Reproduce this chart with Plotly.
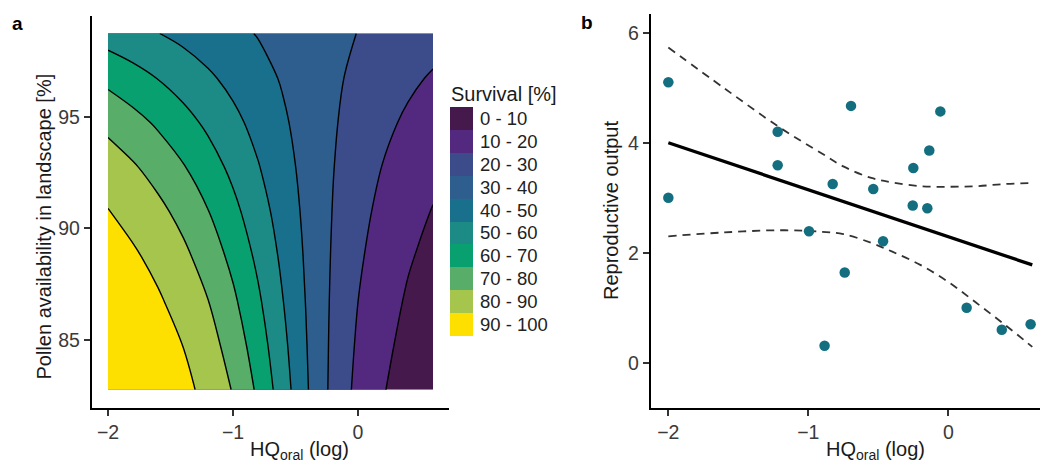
import plotly.graph_objects as go

# ---------------- Panel a: survival surface ----------------
hq_grid = [-2.0, -1.8, -1.6, -1.4, -1.2, -1.0, -0.8, -0.6, -0.4, -0.2, 0.0, 0.2, 0.4, 0.6]
pollen_grid = [82.75, 84.75, 86.75, 88.75, 90.75, 92.75, 94.75, 96.75, 98.75]
survival = [
    [98.61, 97.54, 95.67, 92.51, 87.34, 79.41, 68.31, 54.64, 40.23, 27.33, 17.36, 10.51, 6.16, 3.54],
    [97.71, 96.20, 93.76, 89.91, 84.08, 75.80, 65.00, 52.41, 39.50, 27.90, 18.67, 11.98, 7.46, 4.57],
    [96.27, 94.20, 91.08, 86.53, 80.15, 71.77, 61.54, 50.15, 38.77, 28.47, 20.04, 13.62, 9.02, 5.87],
    [93.97, 91.23, 87.41, 82.25, 75.57, 67.38, 57.96, 47.92, 38.06, 29.08, 21.49, 15.45, 10.87, 7.53],
    [90.39, 86.95, 82.52, 76.98, 70.30, 62.65, 54.29, 45.69, 37.34, 29.68, 23.01, 17.47, 13.04, 9.60],
    [85.03, 81.02, 76.24, 70.68, 64.44, 57.66, 50.58, 43.48, 36.63, 30.28, 24.61, 19.70, 15.57, 12.17],
    [77.43, 73.23, 68.57, 63.50, 58.11, 52.52, 46.87, 41.29, 35.93, 30.90, 26.29, 22.14, 18.48, 15.31],
    [67.43, 63.66, 59.71, 55.64, 51.48, 47.31, 43.17, 39.13, 35.23, 31.52, 28.03, 24.78, 21.80, 19.09],
    [55.55, 52.88, 50.19, 47.49, 44.81, 42.17, 39.56, 37.01, 34.54, 32.14, 29.84, 27.63, 25.53, 23.53],
]
band_labels = ["0 - 10", "10 - 20", "20 - 30", "30 - 40", "40 - 50",
               "50 - 60", "60 - 70", "70 - 80", "80 - 90", "90 - 100"]
band_centers = [5, 15, 25, 35, 45, 55, 65, 75, 85, 95]
band_colors = ["#45194C", "#53297F", "#3C4B8A", "#2E5E8D", "#18708C",
               "#1C8B86", "#07A06E", "#58AE68", "#A5C54C", "#FDDF00"]

# ---------------- Panel b: reproductive output ----------------
hq_points = [-2.0, -2.0, -1.219, -1.219, -0.695, -0.826, -0.536, -0.995, -0.466, -0.740,
             -0.884, -0.057, -0.136, -0.250, -0.254, -0.150, 0.131, 0.382, 0.588]
repro_points = [5.11, 3.01, 4.21, 3.60, 4.68, 3.26, 3.17, 2.40, 2.22, 1.65,
                0.32, 4.58, 3.87, 3.55, 2.87, 2.82, 1.01, 0.61, 0.71]
fit_x = [-2.0, 0.6]
fit_y = [4.01, 1.79]
ci_x = [-2.0, -1.6, -1.2, -0.9, -0.75, -0.55, -0.4, -0.2, 0.0, 0.2, 0.4, 0.6]
ci_upper = [5.74, 5.00, 4.28, 3.81, 3.58, 3.37, 3.29, 3.22, 3.21, 3.22, 3.26, 3.28]
ci_lower = [2.31, 2.38, 2.42, 2.39, 2.35, 2.19, 2.03, 1.79, 1.48, 1.10, 0.71, 0.30]

W, H = 1040, 462
def px(x):
    return x / W
def py(y):
    return 1 - y / H

FONT = "Liberation Sans, Arial, Helvetica, sans-serif"
TICK_COL = "#3a3a3a"
colorscale = [[i / 9, c] for i, c in enumerate(band_colors)]

fig = go.Figure()

fig.add_trace(go.Contour(
    x=hq_grid, y=pollen_grid, z=survival,
    autocontour=False,
    contours=dict(start=10, end=90, size=10, coloring="fill", showlines=True),
    line=dict(color="black", width=1.4, smoothing=1.0),
    colorscale=colorscale,
    showscale=False,
    hoverinfo="skip",
    xaxis="x", yaxis="y",
))

# legend of survival classes, drawn as a one-column heatmap
fig.add_trace(go.Heatmap(
    z=[[v] for v in band_centers], y=band_labels, x=[0],
    colorscale=colorscale, zmin=5, zmax=95, showscale=False,
    xaxis="x3", yaxis="y3", hoverinfo="skip",
))

fig.add_trace(go.Scatter(
    x=ci_x, y=ci_upper, mode="lines", line=dict(color="#333333", width=1.8, dash="8px,6px", shape="spline"),
    xaxis="x2", yaxis="y2", showlegend=False, hoverinfo="skip"))
fig.add_trace(go.Scatter(
    x=ci_x, y=ci_lower, mode="lines", line=dict(color="#333333", width=1.8, dash="8px,6px", shape="spline"),
    xaxis="x2", yaxis="y2", showlegend=False, hoverinfo="skip"))
fig.add_trace(go.Scatter(
    x=fit_x, y=fit_y, mode="lines", line=dict(color="black", width=3.3),
    xaxis="x2", yaxis="y2", showlegend=False))
fig.add_trace(go.Scatter(
    x=hq_points, y=repro_points, mode="markers",
    marker=dict(color="#136E80", size=10.5, line=dict(width=0)),
    xaxis="x2", yaxis="y2", showlegend=False))

axis_common = dict(
    showline=True, linecolor="black", linewidth=1.8, mirror=False,
    ticks="outside", ticklen=6, tickwidth=1.5, tickcolor="#333",
    showgrid=False, zeroline=False,
    tickfont=dict(family=FONT, size=19.5, color=TICK_COL),
)

fig.update_layout(
    width=W, height=H,
    margin=dict(l=0, r=0, t=0, b=0, autoexpand=False),
    paper_bgcolor="white", plot_bgcolor="white",
    showlegend=False,
    font=dict(family=FONT),
    xaxis=dict(domain=[px(91.75), px(449.25)], range=[-2.13, 0.73],
               tickvals=[-2, -1, 0], anchor="y", **axis_common),
    yaxis=dict(domain=[py(407.6), py(15.67)], range=[81.95, 99.55],
               tickvals=[85, 90, 95], anchor="x", **axis_common),
    xaxis2=dict(domain=[px(650.7), 1.0], range=[-2.126, 0.655],
                tickvals=[-2, -1, 0], anchor="y2", **axis_common),
    yaxis2=dict(domain=[py(407.9), py(13.5)], range=[-0.81, 6.36],
                tickvals=[0, 2, 4, 6], anchor="x2", **axis_common),
    xaxis3=dict(domain=[px(450), px(473)], anchor="y3", visible=False, fixedrange=True),
    yaxis3=dict(domain=[py(336), py(107)], anchor="x3", autorange="reversed",
                type="category", tickmode="array", tickvals=band_labels, ticktext=band_labels,
                side="right", showline=False, showgrid=False, zeroline=False, ticks="",
                ticklabelstandoff=6,
                tickfont=dict(family=FONT, size=18.5, color="#222"), fixedrange=True),
)

ann_font = dict(family=FONT, size=20, color="#1a1a1a")
annotations = [
    dict(text="<b>a</b>", x=px(17.5), y=py(23), xref="paper", yref="paper",
         showarrow=False, xanchor="center", yanchor="middle",
         font=dict(family=FONT, size=19, color="black")),
    dict(text="<b>b</b>", x=px(587), y=py(22), xref="paper", yref="paper",
         showarrow=False, xanchor="center", yanchor="middle",
         font=dict(family=FONT, size=19, color="black")),
    dict(text="Survival [%]", x=px(449), y=py(94), xref="paper", yref="paper",
         showarrow=False, xanchor="left", yanchor="middle", font=ann_font),
    dict(text="HQ<sub>oral</sub> (log)", x=px(299), y=py(436), xref="paper", yref="paper",
         showarrow=False, xanchor="center", yanchor="top", font=ann_font),
    dict(text="HQ<sub>oral</sub> (log)", x=px(875), y=py(436), xref="paper", yref="paper",
         showarrow=False, xanchor="center", yanchor="top", font=ann_font),
    dict(text="Pollen availability in landscape [%]", x=px(43), y=py(226.5), xref="paper", yref="paper",
         showarrow=False, xanchor="center", yanchor="middle", textangle=-90, font=ann_font),
    dict(text="Reproductive output", x=px(611), y=py(211), xref="paper", yref="paper",
         showarrow=False, xanchor="center", yanchor="middle", textangle=-90, font=ann_font),
]
fig.update_layout(annotations=annotations)

fig.write_html("out.html", config={"displayModeBar": False},
               post_script="document.body.style.margin='0';document.body.style.overflow='hidden';")
